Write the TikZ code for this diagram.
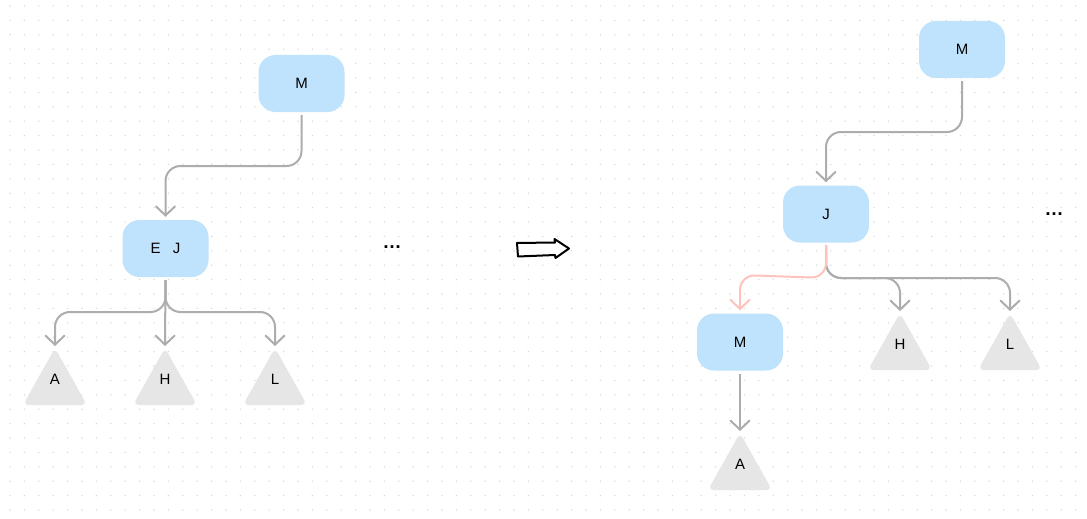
\documentclass[tikz,border=0pt]{standalone}
\usepackage{fontspec}
\setmainfont{Liberation Sans}
\usetikzlibrary{arrows.meta,calc}
\definecolor{boxblue}{HTML}{BFE3FD}
\definecolor{trigray}{HTML}{E6E6E6}
\definecolor{conngray}{HTML}{ADADAD}
\definecolor{connpink}{HTML}{FFC3BD}
\definecolor{dotgray}{HTML}{D9D9D9}
\tikzset{
  bbox/.style={fill=boxblue, rounded corners=17pt, minimum width=86pt, minimum height=57pt, inner sep=0pt, font=\fontsize{15}{17}\selectfont},
  lbl/.style={inner sep=0pt, font=\fontsize{15}{17}\selectfont},
  conn/.style={draw=conngray, line width=2pt, rounded corners=15pt, -{Straight Barb[length=9pt,width=19pt,line cap=round]}},
  pconn/.style={conn, draw=connpink},
  trishape/.style={fill=trigray, rounded corners=6pt}
}
\newcommand\Tri[4]{%
  \fill[trishape] (#2,#3) -- (#2+32,#3+57) -- (#2-32,#3+57) -- cycle;
  \node[lbl] (#1) at (#2,#3+31) {#4};
  \coordinate (#1top) at (#2,#3-2);
}
\begin{document}
\begin{tikzpicture}[x=1pt,y=-1pt]
\fill[white] (0,0) rectangle (1087,519);
\useasboundingbox (0,0) rectangle (1087,519);
\foreach \i in {0,...,75}{\foreach \j in {0,...,35}{
  \fill[dotgray] ({10+14.4*\i},{6+14.4*\j}) circle (0.8pt);}}

% ---------- left tree ----------
\node[bbox] (M1) at (301.5,83.5) {M};
\node[bbox] (EJ) at (165.5,248.5) {E\hspace{12pt}J};
\Tri{A1}{55}{348}{A}
\Tri{H1}{165}{348}{H}
\Tri{L1}{275}{348}{L}

\draw[conn] ([yshift=-3pt]M1.south) -- (M1.south |- 0,166) -- (EJ.north |- 0,166) -- ([yshift=3pt]EJ.north);
\draw[conn] ([yshift=-3pt]EJ.south) -- (EJ.south |- 0,312) -- (A1top |- 0,312) -- (A1top);
\draw[conn] ([yshift=-3pt]EJ.south) -- (EJ.south |- 0,312) -- (L1top |- 0,312) -- (L1top);
\draw[conn] ([yshift=-3pt]EJ.south) -- (H1top);

\node[lbl, font=\fontsize{19}{21}\selectfont\bfseries] (dots1) at (392,247) {…};

% ---------- block arrow ----------
\draw[line width=2pt, line join=round, fill=white] (517,243) -- (555,242.5) -- (554.5,239) -- (569,248.5) -- (555.5,258) -- (555,255) -- (518,256.5) -- cycle;

% ---------- right tree ----------
\node[bbox] (M2) at (962,49.5) {M};
\node[bbox] (J2) at (826,214) {J};
\node[bbox] (M3) at (740,342) {M};
\Tri{H2}{900}{313}{H}
\Tri{L2}{1010}{313}{L}
\Tri{A2}{740}{433}{A}

\draw[conn] ([yshift=-3pt]M2.south) -- (M2.south |- 0,132) -- (J2.north |- 0,132) -- ([yshift=3pt]J2.north);
\draw[conn] ([yshift=-3pt]J2.south) -- (J2.south |- 0,278) -- (H2top |- 0,278) -- (H2top);
\draw[conn] ([yshift=-3pt]J2.south) -- (J2.south |- 0,278) -- (L2top |- 0,278) -- (L2top);
\draw[pconn] ([yshift=-3pt]J2.south) -- (J2.south |- 0,278) -- ([yshift=3pt]M3.north |- 0,278) -- ([yshift=3pt]M3.north);
\draw[conn] ([yshift=-3pt]M3.south) -- (A2top);

\node[lbl, font=\fontsize{19}{21}\selectfont\bfseries] (dots2) at (1054,214) {…};
\end{tikzpicture}
\end{document}
